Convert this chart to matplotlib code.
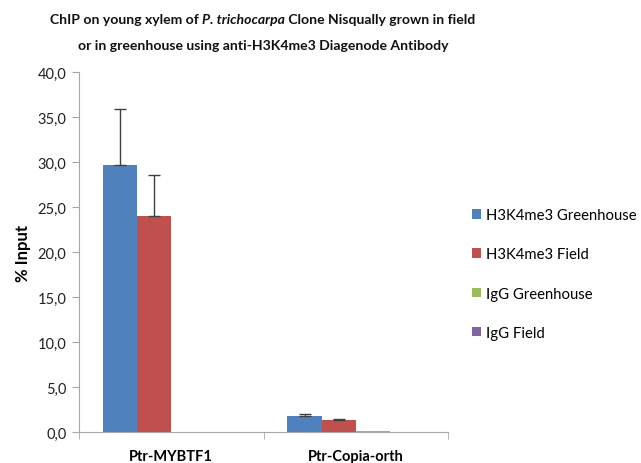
import matplotlib
matplotlib.use("Agg")
import matplotlib.pyplot as plt
import numpy as np
from matplotlib.ticker import FuncFormatter, FixedLocator
from matplotlib.offsetbox import TextArea, HPacker, VPacker, AnchoredOffsetbox

categories = ["Ptr-MYBTF1", "Ptr-Copia-orth"]
series = ["H3K4me3 Greenhouse", "H3K4me3 Field", "IgG Greenhouse", "IgG Field"]
values = {
    "H3K4me3 Greenhouse": [29.7, 1.8],
    "H3K4me3 Field": [24.0, 1.35],
    "IgG Greenhouse": [0.0, 0.15],
    "IgG Field": [0.0, 0.02],
}
errors = {
    "H3K4me3 Greenhouse": [6.2, 0.2],
    "H3K4me3 Field": [4.6, 0.1],
    "IgG Greenhouse": [0.0, 0.0],
    "IgG Field": [0.0, 0.0],
}
colors = ["#4F81BD", "#C0504D", "#9BBB59", "#8064A2"]

FONT = "Lato"
plt.rcParams["font.family"] = [FONT, "DejaVu Sans"]

fig = plt.figure(figsize=(6.41, 4.64), dpi=100)
ax = fig.add_axes([79/641, 31/464, (448-79)/641, (433-73)/464])

x = np.arange(len(categories))
bw = 0.185
for i, s in enumerate(series):
    pos = x + (i - 1.5) * bw
    ax.bar(pos, values[s], width=bw, color=colors[i], label=s, zorder=2)
    err = np.array(errors[s])
    mask = err > 0
    if mask.any():
        ax.errorbar(pos[mask], np.array(values[s])[mask],
                    yerr=[np.zeros(mask.sum()), err[mask]],
                    fmt="none", ecolor="#404040", elinewidth=1.0,
                    capsize=4, capthick=1.0, zorder=3)

ax.set_xlim(-0.5, 1.5)
ax.set_ylim(0, 40)
ax.set_yticks(np.arange(0, 40.1, 5))
ax.yaxis.set_major_formatter(FuncFormatter(lambda v, p: f"{v:.1f}".replace(".", ",")))
ax.set_xticks(x)
ax.set_xticklabels(categories, fontweight="bold", fontsize=10.5)
ax.xaxis.set_minor_locator(FixedLocator([-0.5, 0.5, 1.5]))
ax.tick_params(axis="x", which="major", length=0, pad=12)
ax.tick_params(axis="x", which="minor", length=5, color="#a6a6a6", direction="out")
ax.tick_params(axis="y", length=5, color="#a6a6a6", labelsize=10.5, labelcolor="#222222", pad=4)
for sp in ["top", "right"]:
    ax.spines[sp].set_visible(False)
for sp in ["left", "bottom"]:
    ax.spines[sp].set_color("#a6a6a6")
ax.set_ylabel("% Input", fontweight="bold", fontsize=12, labelpad=5)

fig.legend(loc="center left", bbox_to_anchor=(472/641, (464-275)/464), frameon=False,
           fontsize=10.7, handlelength=0.62, handleheight=0.62, handletextpad=0.35,
           labelspacing=1.70, borderaxespad=0, borderpad=0)

tprops = dict(fontsize=10.1, fontweight="bold", color="#111111")
l1 = HPacker(children=[
    TextArea("ChIP on young xylem of ", textprops=tprops),
    TextArea("P. trichocarpa", textprops=dict(tprops, fontstyle="italic")),
    TextArea(" Clone Nisqually grown in field", textprops=tprops),
], sep=0, pad=0, align="baseline")
l2 = TextArea("or in greenhouse using anti-H3K4me3 Diagenode Antibody", textprops=tprops)
title = VPacker(children=[l1, l2], sep=10, pad=0, align="center")
ab = AnchoredOffsetbox(loc="upper center", child=title, pad=0, frameon=False,
                       bbox_to_anchor=(263/641, 1 - 14/464), bbox_transform=fig.transFigure,
                       borderpad=0)
fig.add_artist(ab)

fig.savefig("out.png", dpi=100)
